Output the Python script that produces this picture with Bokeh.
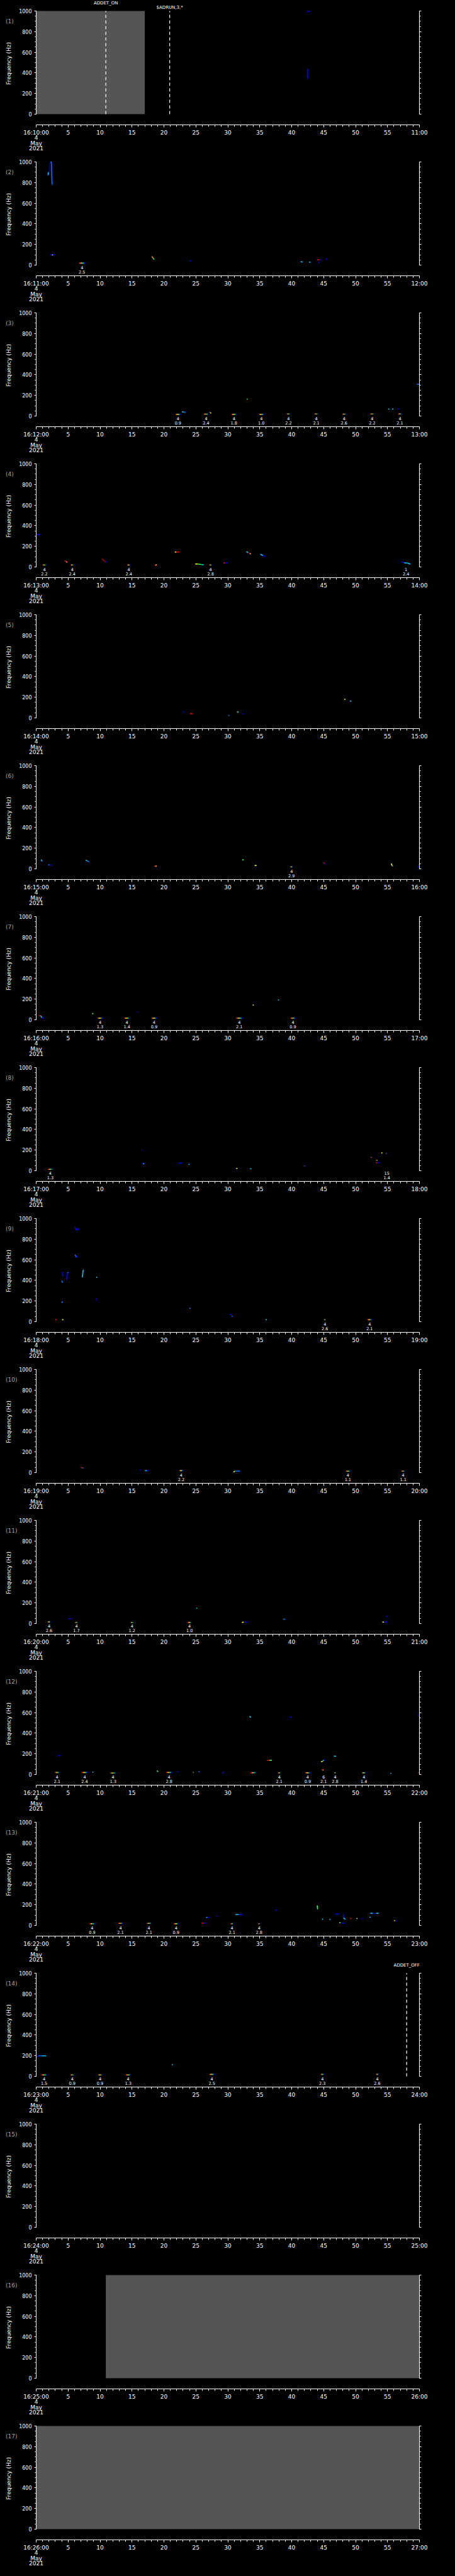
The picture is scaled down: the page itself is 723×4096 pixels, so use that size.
from bokeh.plotting import figure
from bokeh.layouts import column
from bokeh.models import (Range1d, FixedTicker, LinearAxis, ColumnDataSource,
                          GlobalInlineStyleSheet, CustomLabelingPolicy)
from bokeh.embed import file_html
from bokeh.resources import INLINE
from bokeh.core.properties import value

# ---------------- colours (rainbow colour table) ----------------
B = "#0000ff"
DB = "#0000a8"
LB = "#0070ff"
C = "#00c8ff"
G = "#20ff60"
Y = "#ffff00"
O = "#ff9900"
R = "#ff0000"
DR = "#a80000"
RAINBOW = [R, O, Y, G, C, B]

# ---------------- axes / labels ----------------
panel_start_minute = list(range(10, 27))      # 16:MM:00 for panels 1..17
date_lines = ["4", "May", "2021"]
freq_ticks = [0, 200, 400, 600, 800, 1000]
freq_minor = list(range(0, 1001, 50))
time_ticks = list(range(0, 61, 5))
time_minor = list(range(0, 61))

# ---------------- data ----------------
# gray (no data) blocks: (panel, start s, end s)
gray_blocks = [(1, 0.0, 17.0), (16, 10.9, 60.0), (17, 0.0, 60.0)]
# dashed event markers: (panel, time s, label, row)
markers = [(1, 10.9, "ADDET_ON", 0), (1, 20.9, "$ADRUN,3,*", 1), (14, 58.0, "ADDET_OFF", 0)]

# trace segments: (t0, f0, t1, f1, colour)
seg_p01 = [(42.5, 342, 42.5, 437, B), (42.45, 993, 42.85, 996, B)]
seg_p02 = [(1.71, 866, 1.85, 873, B), (1.85, 873, 1.92, 902, C), (1.92, 902, 2.06, 905, B),
           (2.06, 905, 2.15, 981, DB), (2.15, 981, 2.27, 1000, B), (2.27, 1000, 2.38, 1000, C),
           (2.38, 1000, 2.43, 852, LB), (2.43, 852, 2.5, 780, LB),
           (2.17, 100, 2.5, 100, B), (2.5, 100, 2.65, 96, Y), (2.65, 96, 2.9, 100, B),
           (18.1, 84, 18.3, 68, O), (18.3, 68, 18.45, 54, G), (24.0, 40, 24.25, 40, B),
           (41.4, 32, 41.7, 32, C), (42.7, 30, 42.95, 27, C), (44.0, 52, 44.3, 50, R),
           (44.3, 50, 44.6, 48, B), (44.15, 28, 44.3, 24, B), (45.35, 55, 45.5, 64, B)]
seg_p03 = [(22.8, 40, 23.1, 40, C), (23.1, 38, 23.4, 34, LB), (27.1, 39, 27.25, 33, LB),
           (27.25, 33, 27.4, 27, Y), (32.95, 163, 33.1, 165, G), (55.1, 67, 55.3, 67, C),
           (55.7, 67, 55.9, 67, C), (56.5, 67, 56.8, 69, B), (59.6, 308, 60.0, 308, LB)]
seg_p04 = [(0.07, 313, 0.58, 313, B), (4.47, 59, 4.7, 52, R), (4.7, 52, 4.86, 45, O),
           (4.86, 45, 5.0, 45, B), (10.3, 79, 10.8, 49, DR), (10.8, 49, 11.0, 49, B),
           (18.6, 12, 18.7, 18, R), (18.7, 18, 18.85, 21, Y), (21.7, 145, 21.95, 145, Y),
           (21.95, 145, 22.4, 145, R), (24.9, 29, 25.3, 29, Y), (25.3, 29, 25.8, 24, G),
           (25.8, 24, 26.2, 20, C), (29.3, 40, 29.6, 38, R), (29.6, 38, 30.0, 38, B),
           (32.9, 150, 33.2, 138, C), (33.2, 138, 33.45, 130, DR), (33.45, 130, 33.6, 127, Y),
           (35.1, 124, 35.5, 110, C), (35.5, 110, 35.8, 99, B), (57.2, 49, 57.6, 40, B),
           (57.6, 40, 58.1, 38, C), (58.1, 38, 58.6, 27, C)]
seg_p05 = [(22.95, 60, 23.15, 58, B), (24.1, 42, 24.5, 40, R), (30.05, 24, 30.25, 24, LB),
           (31.45, 60, 31.55, 55, Y), (31.55, 55, 31.7, 55, C), (32.25, 39, 32.45, 37, B),
           (48.2, 180, 48.4, 180, Y), (49.1, 161, 49.35, 165, C)]
seg_p06 = [(0.8, 90, 0.85, 75, C), (0.85, 75, 1.0, 75, LB), (1.86, 40, 2.1, 38, LB),
           (2.1, 36, 2.4, 32, B), (7.75, 84, 8.0, 78, C), (8.0, 78, 8.3, 65, LB),
           (18.46, 27, 18.7, 27, R), (18.7, 27, 18.85, 25, Y), (32.25, 90, 32.5, 84, G),
           (34.2, 32, 34.5, 32, Y), (44.9, 62, 45.2, 50, DR), (45.2, 50, 45.3, 47, B),
           (55.6, 52, 55.7, 30, Y), (55.7, 30, 55.85, 26, C), (59.7, 19, 59.85, 19, B),
           (59.85, 40, 60.0, 40, R)]
seg_p07 = [(0.38, 40, 0.7, 40, R), (0.7, 40, 0.9, 20, C), (0.9, 17, 1.2, 16, B),
           (8.75, 60, 8.95, 60, G), (15.85, 75, 16.0, 77, B), (33.9, 141, 34.05, 143, Y),
           (37.85, 194, 38.0, 190, C)]
seg_p08 = [(16.45, 198, 16.6, 198, B), (16.6, 74, 16.75, 68, B), (16.75, 68, 16.9, 68, C),
           (22.35, 72, 22.8, 76, B), (23.85, 62, 24.0, 62, C), (31.3, 23, 31.5, 21, Y),
           (33.5, 19, 33.7, 19, C), (41.9, 48, 42.05, 48, R), (42.05, 45, 42.2, 45, B),
           (52.4, 130, 52.5, 130, C), (52.5, 130, 52.6, 130, R), (53.2, 100, 53.3, 100, R),
           (53.3, 100, 53.4, 100, Y), (53.2, 79, 53.35, 79, R), (53.35, 79, 53.7, 79, B),
           (54.05, 173, 54.2, 173, Y), (54.75, 168, 54.9, 166, LB)]
seg_p09 = [(6.07, 919, 6.3, 886, B), (6.3, 886, 6.69, 904, B), (6.07, 649, 6.3, 625, LB),
           (6.3, 625, 6.55, 633, B), (3.97, 476, 4.1, 476, B), (4.1, 476, 4.16, 437, B),
           (4.75, 404, 4.9, 476, B), (4.9, 476, 5.1, 476, LB), (7.24, 429, 7.35, 500, C),
           (7.35, 500, 7.43, 500, C), (9.4, 429, 9.55, 429, C), (3.97, 396, 4.16, 378, LB),
           (3.97, 183, 4.16, 196, LB), (9.35, 230, 9.5, 196, DB), (3.0, 19, 3.2, 19, R),
           (4.05, 19, 4.25, 19, Y), (24.0, 130, 24.15, 130, C), (24.15, 130, 24.3, 128, B),
           (30.35, 70, 30.55, 70, B), (30.6, 55, 30.7, 50, LB), (35.9, 19, 36.1, 19, C)]
seg_p10 = [(6.9, 52, 7.2, 46, DR), (7.2, 46, 7.4, 44, LB), (16.2, 24, 16.4, 24, B),
           (17.05, 19, 17.3, 19, C), (17.3, 19, 17.6, 19, B), (30.9, 4, 31.1, 14, Y),
           (31.1, 14, 31.9, 14, LB)]
seg_p11 = [(5.06, 46, 5.45, 46, B), (25.05, 150, 25.2, 147, C), (32.2, 11, 32.5, 14, Y),
           (32.5, 14, 33.0, 14, B), (38.7, 45, 38.95, 37, C), (38.8, 40, 38.9, 35, B),
           (54.8, 69, 54.95, 70, B), (54.2, 14, 54.45, 14, Y), (54.45, 14, 54.9, 16, B)]
seg_p12 = [(3.4, 180, 3.8, 186, B), (8.8, 22, 8.95, 22, C), (18.9, 37, 19.1, 26, G),
           (19.05, 28, 19.15, 26, R), (22.05, 27, 22.2, 27, B), (24.55, 19, 24.65, 19, G),
           (25.4, 29, 25.6, 26, LB), (29.1, 16, 29.4, 19, B), (33.4, 565, 33.6, 553, C),
           (39.7, 555, 40.0, 555, B), (59.75, 572, 59.9, 572, B), (36.1, 134, 36.5, 137, R),
           (36.5, 137, 36.9, 137, G), (33.5, 14, 33.8, 16, R), (33.8, 16, 34.0, 17, Y),
           (34.0, 17, 34.3, 19, C), (44.7, 50, 44.85, 44, R), (44.85, 44, 45.0, 39, O),
           (44.6, 124, 44.85, 128, Y), (44.85, 128, 45.05, 140, C), (45.05, 140, 45.2, 147, B),
           (46.6, 178, 46.95, 176, C), (55.45, 11, 55.6, 11, C), (59.8, 16, 60.0, 16, R)]
seg_p13 = [(25.9, 22, 26.2, 22, R), (26.2, 22, 26.5, 21, B), (26.6, 76, 26.8, 79, C),
           (26.8, 79, 27.1, 79, B), (28.15, 87, 28.3, 90, B), (31.2, 105, 31.7, 105, C),
           (31.7, 105, 32.3, 103, B), (37.45, 147, 37.6, 149, B), (44.0, 193, 44.05, 156, G),
           (44.75, 62, 44.9, 58, C), (45.9, 62, 46.05, 56, C), (47.45, 27, 47.65, 25, G),
           (46.8, 110, 47.4, 110, B), (48.1, 110, 48.1, 72, B), (48.1, 72, 48.4, 59, C),
           (47.9, 21, 48.3, 21, B), (49.15, 67, 49.35, 65, R), (50.15, 67, 50.3, 67, Y),
           (50.95, 67, 51.15, 67, B), (52.3, 117, 52.7, 117, C), (52.7, 115, 53.0, 115, B),
           (53.2, 117, 53.6, 117, C), (52.15, 79, 52.35, 79, C), (56.0, 47, 56.2, 47, O),
           (56.2, 45, 56.4, 43, B), (59.85, 196, 60.0, 198, B)]
seg_p14 = [(0.07, 192, 0.35, 198, B), (0.35, 198, 0.9, 200, LB), (0.9, 200, 1.55, 198, C),
           (21.25, 112, 21.4, 112, C)]

# detections: (time s, freq Hz, count label, value label, drawn length s)
ev_p02 = [(7.17, 19, "4", "2.5", 1.0)]
ev_p03 = [(22.2, 16, "4", "0.9", 0.8), (26.6, 18, "4", "2.4", 0.8), (30.96, 16, "4", "1.8", 0.8),
          (35.25, 16, "4", "1.0", 0.8), (39.5, 20, "4", "2.2", 0.6), (43.85, 20, "4", "2.1", 0.6),
          (48.2, 18, "4", "2.6", 0.6), (52.6, 20, "4", "2.2", 0.6), (56.95, 20, "4", "2.1", 0.6)]
ev_p04 = [(1.28, 19, "4", "2.2", 0.6), (5.64, 19, "4", "2.4", 0.5), (14.5, 19, "4", "2.4", 0.5),
          (27.3, 19, "4", "2.8", 0.4), (57.9, 19, "1", "2.4", 0.0)]
ev_p06 = [(39.97, 19, "4", "2.9", 0.4)]
ev_p07 = [(10.0, 16, "4", "1.3", 0.8), (14.2, 16, "4", "1.4", 0.8), (18.46, 16, "4", "0.9", 0.8),
          (31.8, 16, "4", "2.1", 1.0), (40.2, 16, "4", "0.9", 0.7)]
ev_p08 = [(2.21, 14, "4", "1.3", 0.8), (54.9, 14, "15", "1.4", 0.0)]
ev_p09 = [(45.2, 19, "4", "2.6", 0.3), (52.2, 19, "4", "2.1", 0.7)]
ev_p10 = [(22.7, 19, "4", "2.2", 0.6), (48.8, 14, "4", "1.1", 0.7), (57.45, 14, "4", "1.1", 0.6)]
ev_p11 = [(2.02, 16, "4", "2.6", 0.5), (6.3, 11, "4", "1.7", 0.5), (15.0, 11, "4", "1.2", 0.5),
          (24.0, 11, "4", "1.0", 0.6)]
ev_p12 = [(3.27, 19, "4", "2.1", 0.7), (7.59, 19, "4", "2.4", 0.9), (12.03, 14, "4", "1.3", 0.9),
          (20.8, 19, "4", "2.8", 0.9), (38.05, 16, "4", "2.1", 0.4), (42.5, 16, "4", "0.9", 0.8),
          (45.0, 19, "6", "2.1", 0.0), (46.8, 16, "4", "2.8", 0.3), (51.3, 16, "4", "1.4", 0.6)]
ev_p13 = [(8.76, 16, "4", "0.9", 0.8), (13.2, 20, "4", "2.1", 0.7), (17.65, 20, "4", "2.1", 0.7),
          (21.9, 16, "4", "0.9", 0.7), (30.65, 16, "4", "2.1", 0.4), (34.9, 16, "4", "2.8", 0.3)]
ev_p14 = [(1.24, 14, "4", "1.5", 0.9), (5.64, 14, "4", "0.9", 0.6), (10.0, 14, "4", "0.9", 0.7),
          (14.4, 14, "4", "1.3", 0.8), (27.5, 19, "4", "2.5", 0.8), (44.8, 19, "4", "2.3", 0.5),
          (53.4, 19, "4", "2.6", 0.4)]

segments = {1: seg_p01, 2: seg_p02, 3: seg_p03, 4: seg_p04, 5: seg_p05, 6: seg_p06, 7: seg_p07,
            8: seg_p08, 9: seg_p09, 10: seg_p10, 11: seg_p11, 12: seg_p12, 13: seg_p13, 14: seg_p14}
events = {2: ev_p02, 3: ev_p03, 4: ev_p04, 6: ev_p06, 7: ev_p07, 8: ev_p08, 9: ev_p09,
          10: ev_p10, 11: ev_p11, 12: ev_p12, 13: ev_p13, 14: ev_p14}

# ---------------- layout constants (pixels within one panel) ----------------
FONT = "DejaVu Sans"
W, H = 707, 240
PX_T0, PX_T60 = 57, 666          # x pixel of 0 s and 60 s
PX_F1000, PX_F0 = 17, 181        # y pixel of 1000 Hz and 0 Hz
PX_XAXIS = 198                   # y pixel of the time axis line
S_PER_PX = 60.0 / (PX_T60 - PX_T0)
HZ_PER_PX = 1000.0 / (PX_F0 - PX_F1000)
X_LO = -PX_T0 * S_PER_PX
X_HI = 60 + (W - PX_T60) * S_PER_PX
Y_HI = 1000 + PX_F1000 * HZ_PER_PX
Y_LO = -(H - PX_F0) * HZ_PER_PX
XAXIS_Y = -(PX_XAXIS - PX_F0) * HZ_PER_PX
LBL_N_Y = -3.7 * HZ_PER_PX
LBL_V_Y = -10.8 * HZ_PER_PX
MARK_LBL_Y = [1000 + 12.7 * HZ_PER_PX, 1000 + 5.7 * HZ_PER_PX]
PANEL_LBL_X = -48.5 * S_PER_PX
PANEL_LBL_Y = 1000 - 16 * HZ_PER_PX

NO_LABELS = CustomLabelingPolicy(code="for (const i of indices) { indices.unset(i) }\nreturn indices")


def style_axis(ax):
    ax.axis_line_color = "white"
    ax.major_tick_line_color = "white"
    ax.minor_tick_line_color = "white"
    ax.major_label_text_color = "white"
    ax.major_label_text_font = FONT


def build_panel(k):
    m = panel_start_minute[k - 1]
    p = figure(width=W, height=H, x_range=Range1d(X_LO, X_HI), y_range=Range1d(Y_LO, Y_HI),
               output_backend="svg", toolbar_location=None, tools="", title=None,
               x_axis_location=None, y_axis_location=None,
               background_fill_color="black", border_fill_color="black",
               outline_line_color=None,
               min_border_left=0, min_border_right=0, min_border_top=0, min_border_bottom=0)
    p.xgrid.grid_line_color = None
    p.ygrid.grid_line_color = None

    # x (time) axis, drawn at its fixed place below 0 Hz
    over = {t: str(t) for t in time_ticks}
    over[0] = "16:%02d:00\n" % m + "\n".join(date_lines)
    over[60] = "%02d:00" % (m + 1)
    xa = LinearAxis(ticker=FixedTicker(ticks=time_ticks, minor_ticks=time_minor),
                    major_label_overrides=over, bounds=(0, 60), fixed_location=XAXIS_Y)
    style_axis(xa)
    xa.major_tick_in, xa.major_tick_out = 0, 4
    xa.minor_tick_in, xa.minor_tick_out = 0, 3
    xa.major_label_text_font_size = "9px"
    xa.major_label_text_line_height = 0.86
    xa.major_label_standoff = 3
    p.add_layout(xa, "below")

    # frequency axes (left labelled, right ticks only)
    for side, loc in (("left", 0), ("right", 60)):
        ya = LinearAxis(ticker=FixedTicker(ticks=freq_ticks, minor_ticks=freq_minor),
                        bounds=(0, 1000), fixed_location=loc)
        style_axis(ya)
        ya.major_tick_in, ya.major_tick_out = 0, 3
        ya.minor_tick_in, ya.minor_tick_out = 0, 2
        ya.major_label_text_font_size = "8px"
        if side == "left":
            ya.major_label_standoff = 4
            ya.axis_label = "Frequency  (Hz)"
            ya.axis_label_text_color = "white"
            ya.axis_label_text_font = FONT
            ya.axis_label_text_font_size = "9px"
            ya.axis_label_text_font_style = "normal"
            ya.axis_label_standoff = 8
        else:
            ya.major_label_policy = NO_LABELS
            ya.major_label_standoff = 0
        p.add_layout(ya, side)

    # gray no-data blocks
    gb = [g for g in gray_blocks if g[0] == k]
    if gb:
        p.quad(left=[g[1] for g in gb], right=[g[2] for g in gb], bottom=0, top=1000,
               fill_color="#555555", line_color=None)

    # spectral traces
    segs = segments.get(k, [])
    if segs:
        src = ColumnDataSource(dict(x0=[s[0] for s in segs], y0=[s[1] for s in segs],
                                    x1=[s[2] for s in segs], y1=[s[3] for s in segs],
                                    c=[s[4] for s in segs]))
        p.segment("x0", "y0", "x1", "y1", source=src, line_color="c", line_width=1.6)

    # detections with rainbow bars and labels
    evs = events.get(k, [])
    if evs:
        bx0, bx1, by, bc = [], [], [], []
        for (t, f, n, v, d) in evs:
            if d <= 0:
                continue
            step = d / len(RAINBOW)
            for i, col in enumerate(RAINBOW):
                bx0.append(t - d / 2 + i * step)
                bx1.append(t - d / 2 + (i + 1) * step)
                by.append(f)
                bc.append(col)
        if bx0:
            p.segment(x0=bx0, y0=by, x1=bx1, y1=by, line_color=bc, line_width=1.6)
        p.text(x=[e[0] for e in evs], y=LBL_N_Y, text=[e[2] for e in evs],
               text_align="center", text_baseline="middle", text_color="white",
               text_font=value(FONT), text_font_size="6.5px")
        p.text(x=[e[0] for e in evs], y=LBL_V_Y, text=[e[3] for e in evs],
               text_align="center", text_baseline="middle", text_color="white",
               text_font=value(FONT), text_font_size="6.5px")

    # dashed markers with labels above the frame
    mk = [q for q in markers if q[0] == k]
    if mk:
        p.segment(x0=[q[1] for q in mk], y0=0, x1=[q[1] for q in mk], y1=1000,
                  line_color="white", line_dash="5 4", line_width=1.2)
        p.text(x=[q[1] for q in mk], y=[MARK_LBL_Y[q[3]] for q in mk], text=[q[2] for q in mk],
               text_align="center", text_baseline="middle", text_color="white",
               text_font=value(FONT), text_font_size="7px")

    # panel number
    p.text(x=[PANEL_LBL_X], y=[PANEL_LBL_Y], text=["(%d)" % k], text_align="left",
           text_baseline="middle", text_color="#a8a8a8", text_font=value(FONT),
           text_font_size="9px")
    return p


panels = [build_panel(k) for k in range(1, 18)]
layout = column(*panels, spacing=0, background="black",
                stylesheets=[GlobalInlineStyleSheet(css="body { background-color: #000000; }")])

open("out.html", "w").write(file_html(layout, INLINE))
